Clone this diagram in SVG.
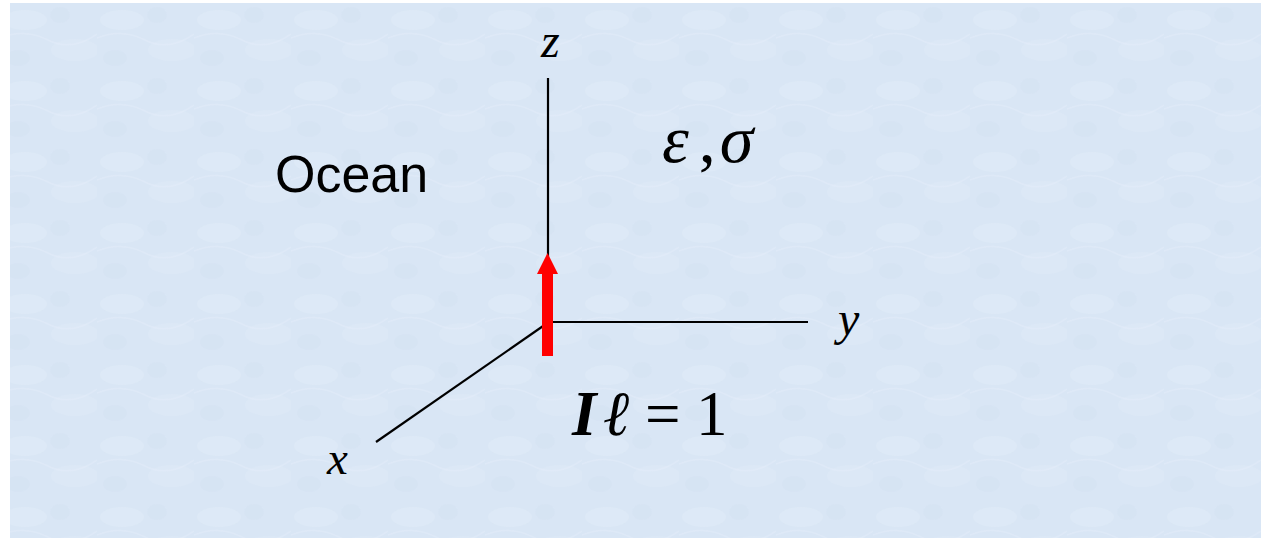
<svg xmlns="http://www.w3.org/2000/svg" width="1261" height="542" viewBox="0 0 1261 542">
<style>
.ax{stroke:#000;stroke-width:2.2;fill:none}
.it{font-family:"Liberation Serif","Times New Roman",serif;font-style:italic;fill:#000}
.rm{font-family:"Liberation Serif","Times New Roman",serif;font-style:normal;fill:#000}
.sans{font-family:"Liberation Sans",Arial,sans-serif;fill:#000}
</style>
<defs>
<pattern id="tex" width="97" height="71" patternUnits="userSpaceOnUse">
<rect width="97" height="71" fill="#d9e6f5"/>
<ellipse cx="25" cy="20" rx="22" ry="10" fill="#e3edf9" opacity="0.45"/>
<ellipse cx="75" cy="50" rx="24" ry="11" fill="#e2ecf8" opacity="0.4"/>
<ellipse cx="60" cy="15" rx="10" ry="8" fill="#d0dff1" opacity="0.35"/>
<ellipse cx="18" cy="58" rx="12" ry="8" fill="#d1e0f1" opacity="0.35"/>
<path d="M0 38 Q25 28 48 40 T97 34" stroke="#e6eefa" stroke-width="1.5" fill="none" opacity="0.4"/>
</pattern>
</defs>
<rect width="1261" height="542" fill="#ffffff"/>
<rect x="10" y="3" width="1251" height="535" fill="url(#tex)"/>
<g id="connectors">
<line class="ax" x1="548" y1="78" x2="548" y2="322"/>
<line class="ax" x1="548" y1="322" x2="808" y2="322"/>
<line class="ax" x1="546" y1="324" x2="376" y2="442"/>
</g>
<g id="dipole">
<rect x="542" y="272" width="11" height="84" fill="#ff0000"/>
<polygon points="537,274 547.5,253 558,274" fill="#ff0000"/>
</g>
<g id="label-z"><text class="it" x="541" y="57" font-size="48">z</text></g>
<g id="label-y"><text class="it" x="838" y="335" font-size="48">y</text></g>
<g id="label-x"><text class="it" x="327" y="474" font-size="47">x</text></g>
<g id="label-ocean"><text class="sans" x="275" y="192" font-size="52">Ocean</text></g>
<g id="label-eps-sigma"><text class="it" x="662" y="162" font-size="68">ε<tspan class="rm" dx="10">,</tspan><tspan dx="4">σ</tspan></text></g>
<g id="label-il"><text class="it" y="435" font-size="63"><tspan x="572" font-weight="bold">I</tspan><tspan x="603">ℓ</tspan><tspan x="645" class="rm">=</tspan><tspan x="696" class="rm">1</tspan></text></g>
</svg>
